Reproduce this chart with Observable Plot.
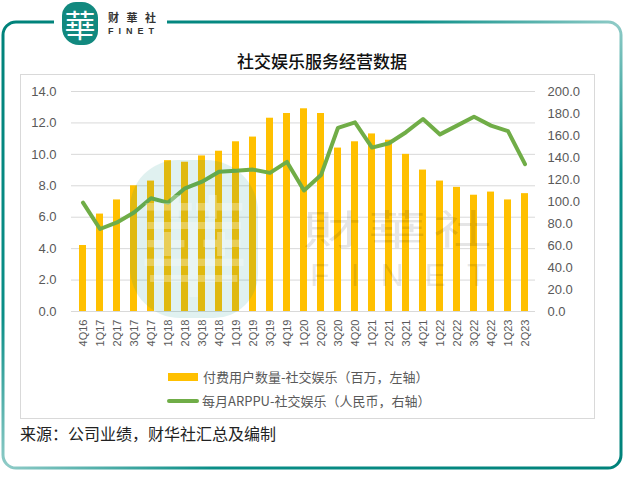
<!DOCTYPE html>
<html><head><meta charset="utf-8">
<script src="https://cdn.jsdelivr.net/npm/d3@7"></script>
<script src="https://cdn.jsdelivr.net/npm/@observablehq/plot@0.6"></script>
<style>
body{margin:0;background:#fff;font-family:"Noto Sans CJK SC","Liberation Sans",Arial,sans-serif;}
#wrap{position:relative;width:623px;height:491px;overflow:hidden;background:#fff;}
.abs{position:absolute;}
#box{left:20px;top:74px;width:575px;height:345px;border:1px solid #d9d9d9;box-sizing:border-box;}
#chart{left:20px;top:74px;}
#title{left:0;width:644px;top:48px;text-align:center;font-size:17px;font-weight:500;color:#111;}
.leg{font-size:13px;color:#595959;white-space:nowrap;line-height:16px;}
#cap{left:20px;top:421px;font-size:16px;color:#222;white-space:nowrap;}
#logo{left:62px;top:2px;width:36px;height:43px;border-radius:14px 16px 14px 17px;background:#12897f;color:#fff;font-size:31px;line-height:43px;text-align:center;font-family:"Noto Sans CJK TC",serif;}
.wm{pointer-events:none;}
</style></head><body>
<div id="wrap">
  <svg class="abs" style="left:0;top:0" width="623" height="491">
    <defs>
      <linearGradient id="fg" x1="0" y1="0" x2="1" y2="1">
        <stop offset="0" stop-color="#00827a"/>
        <stop offset="0.33" stop-color="#0a8e87"/>
        <stop offset="0.5" stop-color="#8fcbc7"/>
        <stop offset="0.67" stop-color="#0a8e87"/>
        <stop offset="1" stop-color="#00827a"/>
      </linearGradient>
    </defs>
    <rect x="3" y="22" width="618" height="446" rx="13" fill="none" stroke="url(#fg)" stroke-width="3"/>
    <rect x="54" y="12" width="113" height="20" fill="#fff"/>
  </svg>
  <div id="logo" class="abs">華</div>
  <div class="abs" style="left:108px;top:9px;font-size:11px;letter-spacing:7.5px;line-height:16px;height:16px;color:#333;font-weight:bold;white-space:nowrap;">财華社</div>
  <div class="abs" style="left:108px;top:25.5px;font-size:9px;letter-spacing:5px;line-height:10px;height:10px;color:#333;font-weight:bold;font-family:'Liberation Sans',Arial,sans-serif;white-space:nowrap;">FINET</div>
  <div id="title" class="abs">社交娱乐服务经营数据</div>
  <div id="box" class="abs"></div>
  <div id="chart" class="abs"></div>
  <div class="abs wm" style="left:130px;top:160px;width:128px;height:158px;border-radius:48px 52px 44px 50px;background:rgba(0,140,128,0.12);"></div>
  <div class="abs wm" style="left:130px;top:175px;width:128px;text-align:center;font-size:110px;line-height:130px;color:rgba(255,255,255,0.3);font-family:'Noto Sans CJK TC',serif;">華</div>
  <div class="abs wm" style="left:303px;top:198px;font-size:40px;letter-spacing:5px;color:rgba(0,0,0,0.1);font-family:'Noto Sans CJK TC',sans-serif;line-height:58px;height:58px;white-space:nowrap;transform:scaleX(1.45);transform-origin:0 0;">財華社</div>
  <div class="abs wm" style="left:310px;top:257px;font-size:32px;letter-spacing:21px;color:rgba(0,0,0,0.1);font-family:'Liberation Sans',Arial,sans-serif;line-height:36px;height:36px;white-space:nowrap;">FINET</div>
  <div class="abs leg" style="left:168px;top:368px;"><span style="display:inline-block;width:30px;height:8px;background:#FFC000;vertical-align:middle;margin-right:5px;"></span><span style="vertical-align:middle;">付费用户数量-社交娱乐（百万，左轴）</span></div>
  <div class="abs leg" style="left:167px;top:392px;"><span style="display:inline-block;width:32px;height:4px;border-radius:2px;background:#70AD47;vertical-align:middle;margin-right:3px;"></span><span style="vertical-align:middle;">每月ARPPU-社交娱乐（人民币，右轴）</span></div>
  <div id="cap" class="abs">来源：公司业绩，财华社汇总及编制</div>
</div>
<script>
const quarters = ["4Q16","1Q17","2Q17","3Q17","4Q17","1Q18","2Q18","3Q18","4Q18","1Q19","2Q19","3Q19","4Q19","1Q20","2Q20","3Q20","4Q20","1Q21","2Q21","3Q21","4Q21","1Q22","2Q22","3Q22","4Q22","1Q23","2Q23"];
const payingUsers = [4.2,6.2,7.1,8.0,8.3,9.6,9.5,9.9,10.2,10.8,11.1,12.3,12.6,12.9,12.6,10.4,10.8,11.3,10.9,10.0,9.0,8.3,7.9,7.4,7.6,7.1,7.5];
const monthlyArppu = [99,75,81,90,103,99,112,118,127,128,129,126,136,110,124,167,172,149,153,163,175,161,169,177,169,164,134];
const leftTicks = [0,2,4,6,8,10,12,14];
const rightTicks = [0,20,40,60,80,100,120,140,160,180,200];

const leftMax = 14, rightMax = 200;
const toLeft = v => v * leftMax / rightMax;
const data = quarters.map((q, i) => ({q, users: payingUsers[i], arppu: monthlyArppu[i]}));
const fmt = d3.format(".1f");

const chart = Plot.plot({
  width: 576,
  height: 290,
  marginLeft: 51,
  marginRight: 61,
  marginTop: 17,
  marginBottom: 53,
  style: {fontFamily: "'Liberation Sans', Arial, sans-serif", fontSize: "13px", background: "transparent", overflow: "visible"},
  x: {domain: quarters, type: "band", paddingInner: 0.59, paddingOuter: 0.295, label: null},
  y: {domain: [0, leftMax], label: null},
  marks: [
    Plot.gridY(leftTicks, {stroke: "#d9d9d9", strokeOpacity: 1, strokeWidth: 1}),
    Plot.barY(data, {x: "q", y: "users", fill: "#FFC000"}),
    Plot.line(data, {x: "q", y: d => toLeft(d.arppu), stroke: "#70AD47", strokeWidth: 4, strokeLinejoin: "round", strokeLinecap: "round"}),
    Plot.axisY(leftTicks, {anchor: "left", tickSize: 0, tickPadding: 15, tickFormat: fmt, color: "#595959", fontSize: 13, label: null}),
    Plot.axisY(rightTicks.map(toLeft), {anchor: "right", tickSize: 0, tickPadding: 12, tickFormat: d => fmt(d * rightMax / leftMax), color: "#595959", fontSize: 13, label: null}),
    Plot.axisX({tickRotate: -90, tickSize: 0, tickPadding: 8, color: "#595959", fontSize: 11, label: null})
  ]
});
document.getElementById("chart").appendChild(chart);
</script>
</body></html>
